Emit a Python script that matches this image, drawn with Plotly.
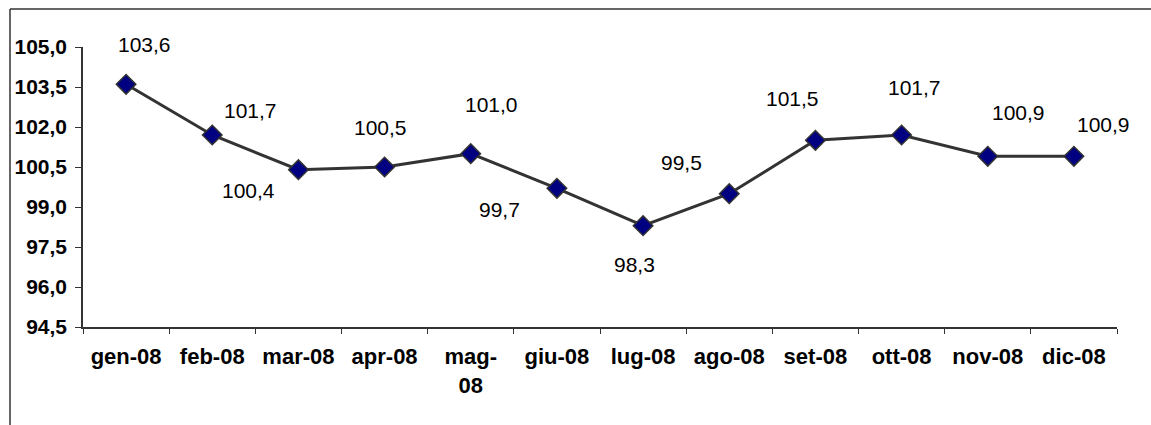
import plotly.graph_objects as go

# Monthly index values, 2008
months = ["gen-08", "feb-08", "mar-08", "apr-08", "mag-08", "giu-08",
          "lug-08", "ago-08", "set-08", "ott-08", "nov-08", "dic-08"]
month_labels = ["gen-08", "feb-08", "mar-08", "apr-08", "mag-<br>08", "giu-08",
                "lug-08", "ago-08", "set-08", "ott-08", "nov-08", "dic-08"]
values = [103.6, 101.7, 100.4, 100.5, 101.0, 99.7,
          98.3, 99.5, 101.5, 101.7, 100.9, 100.9]
y_ticks = [94.5, 96.0, 97.5, 99.0, 100.5, 102.0, 103.5, 105.0]

# pixel offsets of each value label from its marker (dx, dy; dy positive = up)
label_offsets = [(18, 40), (38, 25), (-50, -21), (-4, 40), (21, 49), (-57, -21),
                 (-9, -39), (-48, 31), (-23, 42), (13, 48), (31, 44), (30, 32)]

FONT = "Liberation Sans, Arial, sans-serif"
AXIS_COLOR = "#333333"

fig = go.Figure()
fig.add_trace(go.Scatter(
    x=months, y=values, mode="lines+markers",
    line=dict(color="#333333", width=3),
    marker=dict(symbol="diamond", size=15, color="#000080",
                line=dict(color="#333333", width=1.5)),
    cliponaxis=False, showlegend=False, hoverinfo="skip",
))

for m, v, (dx, dy) in zip(months, values, label_offsets):
    fig.add_annotation(
        x=m, y=v, xref="x", yref="y",
        text=f"{v:.1f}".replace(".", ","),
        showarrow=False, xshift=dx, yshift=dy,
        font=dict(family=FONT, size=21, color="#000000"),
    )

# outer chart frame (top and left edges)
L, R, T, B = 83, 34, 47, 98
W, H = 1151, 425
pw, ph = W - L - R, H - T - B
fx = (10 - L) / pw
fy = (ph + T - 9) / ph
fig.add_shape(type="line", xref="paper", yref="paper",
              x0=fx, y0=fy, x1=1.2, y1=fy,
              line=dict(color="#333333", width=1.5))
fig.add_shape(type="line", xref="paper", yref="paper",
              x0=fx, y0=fy, x1=fx, y1=-0.6,
              line=dict(color="#333333", width=1.5))

fig.update_layout(
    width=W, height=H,
    margin=dict(l=L, r=R, t=T, b=B),
    paper_bgcolor="white", plot_bgcolor="white",
    separators=",.",
    font=dict(family=FONT, color="#000000"),
    xaxis=dict(
        type="category", range=[-0.5, 11.5],
        tickmode="array", tickvals=months, ticktext=month_labels,
        tickson="boundaries", ticks="outside", ticklen=5, tickwidth=1,
        tickcolor=AXIS_COLOR, showline=True, linecolor=AXIS_COLOR, linewidth=1.5,
        showgrid=False, zeroline=False, ticklabelstandoff=9,
        tickfont=dict(family=FONT, size=22, color="#000000", weight="bold"),
    ),
    yaxis=dict(
        range=[94.5, 105.0], tickmode="array", tickvals=y_ticks,
        tickformat=".1f", ticks="outside", ticklen=6, tickwidth=1,
        tickcolor=AXIS_COLOR, showline=True, linecolor=AXIS_COLOR, linewidth=1.5,
        showgrid=False, zeroline=False, ticklabelstandoff=4,
        tickfont=dict(family=FONT, size=21, color="#000000", weight="bold"),
    ),
)

fig.write_html("out.html")
